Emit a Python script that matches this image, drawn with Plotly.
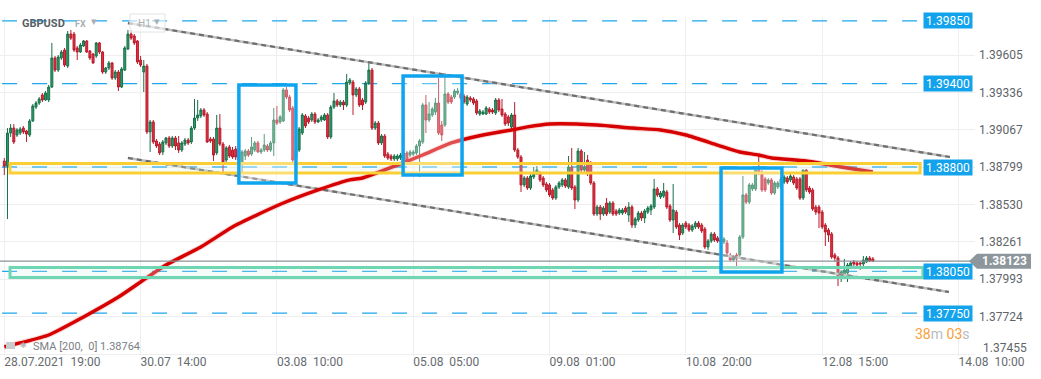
import plotly.graph_objects as go

# ---------------- data ----------------
bar_index = list(range(275))

open_ = [
1.38843,1.38807,1.39044,1.39080,1.39030,1.39044,1.39080,1.39059,1.39030,1.39131,
1.39231,1.39260,1.39318,1.39282,1.39282,1.39375,1.39584,1.39497,1.39584,1.39641,
1.39526,1.39756,1.39756,1.39656,1.39627,1.39670,1.39706,1.39634,1.39612,1.39598,
1.39692,1.39627,1.39483,1.39512,1.39548,1.39440,1.39483,1.39375,1.39497,1.39648,
1.39756,1.39742,1.39706,1.39569,1.39483,1.39526,1.39052,1.39124,1.38987,1.38965,
1.38908,1.38973,1.39009,1.38951,1.39009,1.38973,1.38922,1.38965,1.38994,1.38980,
1.39080,1.39152,1.39167,1.39210,1.39181,1.39001,1.39001,1.38901,1.39080,1.38965,
1.38850,1.38944,1.38922,1.38929,1.38922,1.38836,1.38879,1.38915,1.38893,1.38922,
1.38973,1.38908,1.38922,1.38951,1.38922,1.38973,1.39138,1.39124,1.39131,1.39354,
1.39303,1.39224,1.38865,1.38922,1.39044,1.39167,1.39152,1.39138,1.39181,1.39124,
1.39138,1.39138,1.39174,1.39016,1.39231,1.39275,1.39246,1.39267,1.39246,1.39404,
1.39411,1.39318,1.39361,1.39282,1.39267,1.39404,1.39497,1.39080,1.39116,1.38973,
1.39023,1.38893,1.38879,1.38858,1.38858,1.38865,1.38850,1.38901,1.38886,1.38893,
1.38901,1.38951,1.38980,1.39246,1.39138,1.39174,1.39195,1.39260,1.39102,1.39102,
1.39325,1.39303,1.39303,1.39332,1.39325,1.39310,1.39253,1.39296,1.39289,1.39275,
1.39181,1.39181,1.39181,1.39217,1.39210,1.39188,1.39282,1.39217,1.39181,1.39160,
1.39088,1.39174,1.38922,1.38872,1.38671,1.38721,1.38649,1.38728,1.38757,1.38757,
1.38721,1.38678,1.38671,1.38635,1.38577,1.38656,1.38671,1.38707,1.38656,1.38800,
1.38656,1.38563,1.38915,1.38778,1.38850,1.38814,1.38685,1.38462,1.38512,1.38462,
1.38541,1.38476,1.38541,1.38484,1.38469,1.38469,1.38505,1.38455,1.38512,1.38383,
1.38419,1.38469,1.38433,1.38476,1.38491,1.38512,1.38642,1.38584,1.38591,1.38620,
1.38520,1.38419,1.38476,1.38383,1.38325,1.38397,1.38383,1.38347,1.38369,1.38397,
1.38383,1.38354,1.38225,1.38268,1.38318,1.38290,1.38275,1.38261,1.38254,1.38167,
1.38131,1.38167,1.38167,1.38297,1.38599,1.38548,1.38642,1.38642,1.38778,1.38764,
1.38714,1.38685,1.38707,1.38613,1.38656,1.38656,1.38692,1.38721,1.38707,1.38728,
1.38714,1.38714,1.38577,1.38778,1.38649,1.38635,1.38512,1.38512,1.38476,1.38383,
1.38347,1.38318,1.38167,1.38146,1.38023,1.38023,1.38038,1.38081,1.38117,1.38110,
1.38110,1.38103,1.38117,1.38146,1.38139]

high = [
1.38865,1.39080,1.39109,1.39109,1.39080,1.39088,1.39095,1.39066,1.39145,1.39253,
1.39275,1.39303,1.39332,1.39346,1.39390,1.39692,1.39598,1.39605,1.39641,1.39656,
1.39778,1.39785,1.39771,1.39670,1.39692,1.39713,1.39713,1.39641,1.39620,1.39699,
1.39699,1.39634,1.39519,1.39562,1.39555,1.39497,1.39497,1.39519,1.39670,1.39785,
1.39785,1.39756,1.39713,1.39598,1.39569,1.39541,1.39138,1.39138,1.39001,1.38980,
1.38994,1.39016,1.39023,1.39023,1.39023,1.39023,1.38987,1.39009,1.39009,1.39095,
1.39289,1.39282,1.39224,1.39224,1.39195,1.39016,1.39016,1.39174,1.39181,1.38980,
1.38951,1.38958,1.38944,1.38951,1.38937,1.38922,1.38929,1.38929,1.39016,1.38987,
1.38987,1.38937,1.39037,1.38965,1.38987,1.39224,1.39239,1.39174,1.39368,1.39375,
1.39318,1.39239,1.38937,1.39088,1.39188,1.39181,1.39167,1.39195,1.39195,1.39152,
1.39174,1.39188,1.39188,1.39246,1.39332,1.39289,1.39282,1.39282,1.39469,1.39440,
1.39426,1.39375,1.39375,1.39296,1.39418,1.39562,1.39512,1.39131,1.39131,1.39037,
1.39037,1.38908,1.38893,1.38893,1.38893,1.38901,1.38915,1.38915,1.38922,1.38922,
1.38965,1.39001,1.39260,1.39318,1.39267,1.39231,1.39296,1.39440,1.39131,1.39476,
1.39339,1.39318,1.39361,1.39368,1.39339,1.39325,1.39318,1.39310,1.39303,1.39289,
1.39217,1.39210,1.39239,1.39231,1.39224,1.39296,1.39296,1.39289,1.39195,1.39174,
1.39188,1.39267,1.38937,1.38886,1.38735,1.38735,1.38750,1.38800,1.38807,1.38771,
1.38735,1.38692,1.38685,1.38649,1.38671,1.38699,1.38721,1.38721,1.38879,1.38937,
1.38671,1.38937,1.38929,1.38908,1.38886,1.38843,1.38699,1.38527,1.38527,1.38520,
1.38577,1.38555,1.38555,1.38498,1.38505,1.38505,1.38520,1.38548,1.38527,1.38440,
1.38484,1.38484,1.38498,1.38520,1.38534,1.38714,1.38656,1.38627,1.38685,1.38635,
1.38534,1.38678,1.38491,1.38397,1.38397,1.38412,1.38397,1.38390,1.38412,1.38412,
1.38397,1.38369,1.38282,1.38333,1.38333,1.38304,1.38290,1.38297,1.38275,1.38182,
1.38167,1.38182,1.38311,1.38735,1.38613,1.38685,1.38685,1.38793,1.38886,1.38778,
1.38728,1.38721,1.38721,1.38699,1.38699,1.38728,1.38742,1.38735,1.38750,1.38742,
1.38728,1.38728,1.38778,1.38786,1.38663,1.38649,1.38527,1.38527,1.38491,1.38397,
1.38361,1.38333,1.38182,1.38160,1.38059,1.38139,1.38110,1.38124,1.38131,1.38124,
1.38117,1.38160,1.38160,1.38160,1.38153]

low = [
1.38742,1.38426,1.39016,1.38965,1.39016,1.39030,1.39037,1.38980,1.39016,1.39124,
1.39217,1.39246,1.39267,1.39275,1.39267,1.39368,1.39483,1.39483,1.39569,1.39519,
1.39512,1.39713,1.39627,1.39569,1.39620,1.39663,1.39620,1.39569,1.39541,1.39584,
1.39612,1.39469,1.39469,1.39497,1.39426,1.39426,1.39346,1.39368,1.39490,1.39641,
1.39713,1.39677,1.39541,1.39519,1.39339,1.39037,1.38908,1.38965,1.38937,1.38886,
1.38886,1.38958,1.38937,1.38937,1.38922,1.38901,1.38908,1.38951,1.38958,1.38965,
1.39066,1.39131,1.39152,1.39160,1.38973,1.38973,1.38843,1.38886,1.38951,1.38757,
1.38836,1.38865,1.38858,1.38850,1.38814,1.38764,1.38850,1.38872,1.38879,1.38908,
1.38901,1.38893,1.38908,1.38908,1.38908,1.38879,1.39102,1.39109,1.39124,1.39289,
1.39195,1.38836,1.38850,1.38908,1.39030,1.39080,1.39109,1.39124,1.39109,1.39116,
1.39124,1.39131,1.39001,1.39001,1.39217,1.39231,1.39231,1.39210,1.39231,1.39390,
1.39174,1.39303,1.39231,1.39210,1.39253,1.39390,1.39066,1.39066,1.38958,1.38958,
1.38865,1.38850,1.38843,1.38843,1.38843,1.38850,1.38764,1.38829,1.38872,1.38879,
1.38886,1.38728,1.38965,1.39044,1.39124,1.39160,1.39174,1.39030,1.38987,1.39088,
1.39253,1.39253,1.39289,1.39318,1.39282,1.39253,1.39239,1.39267,1.39246,1.39174,
1.39167,1.39174,1.39174,1.39181,1.39181,1.39174,1.39195,1.39160,1.39095,1.39095,
1.39073,1.38908,1.38858,1.38620,1.38656,1.38635,1.38635,1.38714,1.38742,1.38692,
1.38656,1.38620,1.38584,1.38563,1.38563,1.38642,1.38656,1.38649,1.38642,1.38635,
1.38498,1.38548,1.38764,1.38764,1.38735,1.38671,1.38448,1.38448,1.38419,1.38448,
1.38448,1.38462,1.38448,1.38448,1.38455,1.38455,1.38462,1.38405,1.38361,1.38361,
1.38405,1.38412,1.38397,1.38462,1.38455,1.38498,1.38584,1.38570,1.38577,1.38498,
1.38405,1.38325,1.38354,1.38275,1.38311,1.38354,1.38333,1.38333,1.38354,1.38354,
1.38325,1.38210,1.38203,1.38254,1.38261,1.38254,1.38246,1.38246,1.38160,1.38117,
1.38117,1.38088,1.38153,1.38282,1.38534,1.38534,1.38627,1.38627,1.38742,1.38620,
1.38620,1.38671,1.38599,1.38599,1.38642,1.38642,1.38678,1.38678,1.38692,1.38671,
1.38635,1.38563,1.38563,1.38620,1.38606,1.38484,1.38455,1.38361,1.38354,1.38232,
1.38261,1.38139,1.38117,1.37944,1.37973,1.38009,1.37973,1.38067,1.38088,1.38081,
1.38059,1.38088,1.38110,1.38117,1.38117]

close = [
1.38807,1.39044,1.39080,1.38980,1.39066,1.39073,1.39052,1.39037,1.39131,1.39239,
1.39260,1.39289,1.39282,1.39332,1.39375,1.39584,1.39497,1.39591,1.39627,1.39533,
1.39756,1.39727,1.39641,1.39627,1.39677,1.39706,1.39627,1.39584,1.39548,1.39692,
1.39627,1.39483,1.39512,1.39548,1.39440,1.39483,1.39375,1.39505,1.39656,1.39756,
1.39727,1.39692,1.39555,1.39533,1.39526,1.39052,1.39124,1.38980,1.38951,1.38901,
1.38980,1.39009,1.38951,1.39009,1.38951,1.38922,1.38973,1.38994,1.38973,1.39080,
1.39152,1.39174,1.39210,1.39174,1.38980,1.38987,1.38886,1.39080,1.38965,1.38836,
1.38937,1.38879,1.38872,1.38872,1.38850,1.38908,1.38915,1.38886,1.38944,1.38973,
1.38908,1.38922,1.38958,1.38922,1.38973,1.39138,1.39116,1.39160,1.39354,1.39303,
1.39210,1.38850,1.38922,1.39073,1.39174,1.39095,1.39124,1.39181,1.39124,1.39138,
1.39160,1.39174,1.39016,1.39231,1.39275,1.39246,1.39267,1.39246,1.39411,1.39426,
1.39318,1.39361,1.39246,1.39246,1.39404,1.39497,1.39080,1.39116,1.38973,1.39023,
1.38879,1.38865,1.38858,1.38879,1.38879,1.38886,1.38901,1.38843,1.38908,1.38908,
1.38951,1.38987,1.39246,1.39138,1.39181,1.39217,1.39260,1.39044,1.39030,1.39325,
1.39267,1.39267,1.39346,1.39346,1.39296,1.39267,1.39303,1.39282,1.39260,1.39188,
1.39203,1.39195,1.39224,1.39195,1.39195,1.39282,1.39210,1.39174,1.39109,1.39116,
1.39174,1.38922,1.38872,1.38671,1.38721,1.38649,1.38735,1.38757,1.38778,1.38707,
1.38671,1.38635,1.38599,1.38577,1.38656,1.38685,1.38707,1.38663,1.38800,1.38649,
1.38563,1.38915,1.38778,1.38800,1.38757,1.38685,1.38462,1.38512,1.38462,1.38505,
1.38462,1.38541,1.38462,1.38462,1.38491,1.38491,1.38476,1.38512,1.38383,1.38426,
1.38469,1.38433,1.38484,1.38505,1.38520,1.38642,1.38599,1.38613,1.38627,1.38512,
1.38419,1.38491,1.38369,1.38311,1.38383,1.38369,1.38347,1.38376,1.38397,1.38369,
1.38340,1.38225,1.38268,1.38318,1.38275,1.38268,1.38261,1.38282,1.38182,1.38131,
1.38153,1.38139,1.38297,1.38599,1.38548,1.38671,1.38671,1.38778,1.38757,1.38635,
1.38635,1.38707,1.38613,1.38685,1.38685,1.38714,1.38728,1.38692,1.38735,1.38685,
1.38649,1.38577,1.38778,1.38635,1.38620,1.38498,1.38476,1.38469,1.38369,1.38333,
1.38311,1.38153,1.38146,1.38009,1.38045,1.38059,1.38095,1.38110,1.38103,1.38095,
1.38103,1.38131,1.38146,1.38124,1.38123]

# SMA(200) line read at sample bars
sma_index = [0, 5, 14, 25, 36, 43, 51, 62, 72, 81, 88, 99, 109, 113, 124, 132, 141,
             151, 160, 165, 172, 187, 198, 207, 215, 225, 232, 238, 242, 253, 264, 274]
sma_value = [1.37506, 1.37535, 1.37592, 1.37722, 1.37865, 1.37973, 1.38095, 1.38225,
             1.38369, 1.38469, 1.38541, 1.38635, 1.38707, 1.38721, 1.38814, 1.38886,
             1.38973, 1.39030, 1.39066, 1.39088, 1.39109, 1.39102, 1.39080, 1.39066,
             1.39030, 1.38958, 1.38908, 1.38886, 1.38865, 1.38843, 1.38800, 1.38764]

# horizontal levels
level_values = [1.39850, 1.39400, 1.38800, 1.38050, 1.37750]
level_labels = ["1.39850", "1.39400", "1.38800", "1.38050", "1.37750"]

# trend channel (bar index, price)
upper_trend_x = [39.0, 298.3]
upper_trend_y = [1.39835, 1.38872]
lower_trend_x = [39.0, 298.0]
lower_trend_y = [1.38865, 1.37901]

# zones (x0, x1 in bar index, y0, y1 in price)
yellow_zone = [1.8, 288.9, 1.38757, 1.38825]
green_zone = [1.8, 289.8, 1.38005, 1.38077]
blue_boxes = [[74.0, 92.0, 1.38685, 1.39390],
              [125.8, 144.4, 1.38742, 1.39454],
              [226.1, 245.3, 1.38045, 1.38793]]

last_price = 1.38123
last_price_label = "1.38123"
sma_label = "SMA [200,  0] 1.38764"

y_tick_values = [1.39605, 1.39336, 1.39067, 1.38799, 1.38530, 1.38261, 1.37993, 1.37724, 1.37455]
y_tick_labels = ["1.39605", "1.39336", "1.39067", "1.38799", "1.38530", "1.38261", "1.37993", "1.37724", "1.37455"]
x_tick_values = [0, 43, 86, 129, 172, 215, 258, 301]
x_tick_labels = ["28.07.2021\u00a0\u00a019:00", "30.07\u00a0\u00a014:00", "03.08\u00a0\u00a010:00",
                 "05.08\u00a0\u00a005:00", "09.08\u00a0\u00a001:00", "10.08\u00a0\u00a020:00",
                 "12.08\u00a0\u00a015:00", "14.08\u00a0\u00a010:00"]

# ---------------- layout geometry ----------------
W, H = 1041, 379
ML, MR, MT, MB = 0, 66, 17, 23
PW = W - ML - MR
PH = H - MT - MB


def px_x(px):
    return (px - ML) / PW


def px_y(py):
    return 1 - (py - MT) / PH


FONT = "Roboto, Arial, sans-serif"
BLUE = "#13a3ec"

fig = go.Figure()

fig.add_trace(go.Candlestick(
    x=bar_index, open=open_, high=high, low=low, close=close,
    increasing=dict(line=dict(color="#18704a", width=1), fillcolor="#2a9d68"),
    decreasing=dict(line=dict(color="#b71c2c", width=1), fillcolor="#e3303f"),
    whiskerwidth=0, hoverinfo="none", showlegend=False))

for tx, ty in [(upper_trend_x, upper_trend_y), (lower_trend_x, lower_trend_y)]:
    fig.add_trace(go.Scatter(x=tx, y=ty, mode="lines", hoverinfo="skip", showlegend=False,
                             line=dict(color="#bdbdbd", width=2.4)))
    fig.add_trace(go.Scatter(x=tx, y=ty, mode="lines", hoverinfo="skip", showlegend=False,
                             line=dict(color="#6e6e6e", width=2.2, dash="5px,4px")))

fig.add_trace(go.Scatter(x=sma_index, y=sma_value, mode="lines", hoverinfo="skip", showlegend=False,
                         line=dict(color="rgba(214,0,0,0.15)", width=5.5, shape="spline", smoothing=0.6)))
fig.add_trace(go.Scatter(x=sma_index, y=sma_value, mode="lines", hoverinfo="skip", showlegend=False,
                         line=dict(color="#d60000", width=3.4, shape="spline", smoothing=0.6)))

shapes = []
# dashed level lines
for lv in level_values:
    shapes.append(dict(type="line", xref="x", yref="y", x0=-0.7, x1=288.2, y0=lv, y1=lv,
                       line=dict(color="#1ea6ee", width=1.3, dash="15px,15px"), layer="between"))
# current price line
shapes.append(dict(type="line", xref="paper", yref="y", x0=0, x1=1, y0=last_price, y1=last_price,
                   line=dict(color="#8b9498", width=1.2), layer="above"))
# zones
shapes.append(dict(type="rect", xref="x", yref="y", x0=yellow_zone[0], x1=yellow_zone[1],
                   y0=yellow_zone[2], y1=yellow_zone[3], line=dict(color="#fbcf33", width=3),
                   fillcolor="rgba(215,240,232,0.25)", layer="above"))
shapes.append(dict(type="rect", xref="x", yref="y", x0=green_zone[0], x1=green_zone[1],
                   y0=green_zone[2], y1=green_zone[3], line=dict(color="#6fd6b3", width=3),
                   fillcolor="rgba(215,240,232,0.25)", layer="above"))
for bx in blue_boxes:
    shapes.append(dict(type="rect", xref="x", yref="y", x0=bx[0], x1=bx[1], y0=bx[2], y1=bx[3],
                       line=dict(color="#0fa5ee", width=3.5),
                       fillcolor="rgba(255,255,255,0.3)", layer="above"))
# last price arrow label
y_top = last_price + 7.5 * 0.0000719
y_bot = last_price - 7.5 * 0.0000719
shapes.append(dict(type="path", xref="paper", yref="y",
                   path=f"M {px_x(969)},{last_price} L {px_x(977)},{y_top} L {px_x(1031)},{y_top} "
                        f"L {px_x(1031)},{y_bot} L {px_x(977)},{y_bot} Z",
                   fillcolor="#8d969b", line=dict(width=0), layer="above"))
# H1 selector box
shapes.append(dict(type="rect", xref="paper", yref="paper", x0=px_x(130), x1=px_x(165),
                   y0=px_y(32), y1=px_y(14), line=dict(color="#dfe2e4", width=1),
                   fillcolor="rgba(255,255,255,0.6)", layer="above"))
# legend icon
shapes.append(dict(type="rect", xref="paper", yref="paper", x0=px_x(6), x1=px_x(15),
                   y0=px_y(349), y1=px_y(342), line=dict(width=0), fillcolor="#c9cccf", layer="above"))

annotations = []
for lv, lb in zip(level_values, level_labels):
    annotations.append(dict(xref="paper", yref="y", x=px_x(973), y=lv, xanchor="right", yanchor="middle",
                            text=lb, showarrow=False, bgcolor=BLUE, borderpad=1, width=46, height=13,
                            font=dict(family=FONT, size=12, color="white")))
annotations.append(dict(xref="paper", yref="y", x=px_x(1004), y=last_price, xanchor="center",
                        yanchor="middle", text=f"<b>{last_price_label}</b>", showarrow=False,
                        font=dict(family=FONT, size=12, color="white")))
# lowest price tick label sits a little above its grid line (as in the reference)
annotations.append(dict(xref="paper", yref="paper", x=px_x(981), y=px_y(348), xanchor="left",
                        yanchor="middle", text=y_tick_labels[-1], showarrow=False,
                        font=dict(family=FONT, size=12, color="#5f6469")))
annotations.append(dict(xref="paper", yref="paper", x=px_x(20), y=px_y(23), xanchor="left", yanchor="middle",
                        text="<b>GBPUSD</b>", showarrow=False,
                        font=dict(family=FONT, size=11, color="#555f65")))
annotations.append(dict(xref="paper", yref="paper", x=px_x(73), y=px_y(24), xanchor="left", yanchor="middle",
                        text="<b>FX</b>", showarrow=False, font=dict(family=FONT, size=9, color="#a9b0b5")))
annotations.append(dict(xref="paper", yref="paper", x=px_x(89), y=px_y(22), xanchor="left", yanchor="middle",
                        text="\u25be", showarrow=False, font=dict(family=FONT, size=11, color="#a9b0b5")))
annotations.append(dict(xref="paper", yref="paper", x=px_x(136), y=px_y(23), xanchor="left", yanchor="middle",
                        text="H1", showarrow=False, font=dict(family=FONT, size=10, color="#a9b0b5")))
annotations.append(dict(xref="paper", yref="paper", x=px_x(152), y=px_y(22), xanchor="left", yanchor="middle",
                        text="\u25be", showarrow=False, font=dict(family=FONT, size=11, color="#a9b0b5")))
annotations.append(dict(xref="paper", yref="paper", x=px_x(18), y=px_y(345), xanchor="left", yanchor="middle",
                        text="\u2731", showarrow=False, font=dict(family="DejaVu Sans", size=8, color="#b9bdc0")))
annotations.append(dict(xref="paper", yref="paper", x=px_x(31), y=px_y(346), xanchor="left", yanchor="middle",
                        text=sma_label, showarrow=False, font=dict(family=FONT, size=11, color="#7b8085")))
annotations.append(dict(xref="paper", yref="paper", x=px_x(972), y=px_y(334), xanchor="right", yanchor="middle",
                        text="<span style='color:#f6a13b'>38</span><span style='color:#b9bdc0'>m</span> "
                             "<span style='color:#f6a13b'>03</span><span style='color:#b9bdc0'>s</span>",
                        showarrow=False, font=dict(family=FONT, size=14)))

x_lo = -4.3 / 3.17
x_hi = (PW - 4.3) / 3.17
y_top_px, y_bot_px = MT, H - MB
y_hi = 1.38800 + (167 - y_top_px) * 0.0000719
y_lo = 1.38800 - (y_bot_px - 167) * 0.0000719

axis_y_text = y_tick_labels[:-1] + [""]

fig.update_layout(
    width=W, height=H, margin=dict(l=ML, r=MR, t=MT, b=MB, pad=0),
    paper_bgcolor="white", plot_bgcolor="white", showlegend=False,
    boxgap=0.12, hovermode=False,
    font=dict(family=FONT, size=12, color="#666b70"),
    shapes=shapes, annotations=annotations,
    xaxis=dict(range=[x_lo, x_hi], rangeslider=dict(visible=False), showgrid=True, gridcolor="#eeeeee",
               gridwidth=1, zeroline=False, showline=False, tickmode="array", tickvals=x_tick_values,
               ticktext=x_tick_labels, ticks="", ticklabelposition="outside right", ticklabelstandoff=-3,
               tickfont=dict(family=FONT, size=12, color="#666b70"), fixedrange=True),
    yaxis=dict(range=[y_lo, y_hi], side="right", showgrid=True, gridcolor="#eeeeee", gridwidth=1,
               zeroline=False, showline=False, tickmode="array", tickvals=y_tick_values,
               ticktext=axis_y_text, ticks="", ticklabelstandoff=3,
               tickfont=dict(family=FONT, size=12, color="#5f6469"), fixedrange=True),
)

fig.write_html("out.html", config={"displayModeBar": False},
               post_script="document.body.style.margin='0px';document.body.style.padding='0px';")
